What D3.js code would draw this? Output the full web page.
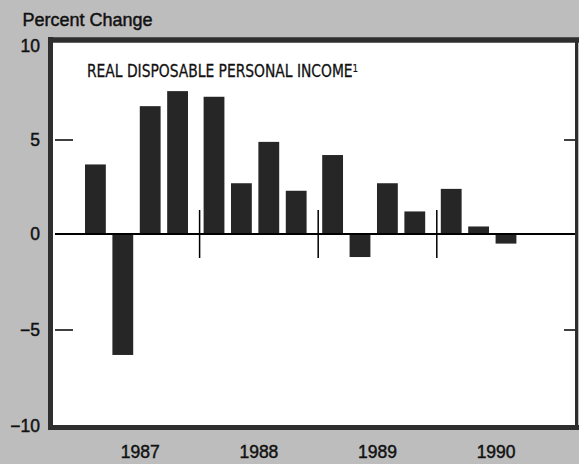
<!DOCTYPE html>
<html>
<head>
<meta charset="utf-8">
<script src="https://cdn.jsdelivr.net/npm/d3@7"></script>
<style>
  html, body { margin: 0; padding: 0; background: #bdbdbd; }
  svg { display: block; }
  text { font-family: "Liberation Sans", Arial, sans-serif; fill: #111; stroke: #111; stroke-width: 0.45px; }
</style>
</head>
<body>
<svg id="chart" width="579" height="464"></svg>
<script>
// real disposable personal income, percent change by quarter
const years = ["1987", "1988", "1989", "1990"];
const quarters = ["I", "II", "III", "IV"];
const values = [
  3.7, -6.3, 6.8, 7.6,
  7.3, 2.7, 4.9, 2.3,
  4.2, -1.2, 2.7, 1.2,
  2.4, 0.4, -0.5, null
];
const yTicks = [10, 5, 0, -5, -10];
const yTickLabels = ["10", "5", "0", "\u22125", "\u221210"];

const svg = d3.select("#chart");
const W = 579, H = 464;
const frame = { left: 50.5, top: 40, right: 576.5, bottom: 427.5 };

svg.append("rect").attr("width", W).attr("height", H).attr("fill", "#bdbdbd");
svg.append("rect")
  .attr("x", frame.left).attr("y", frame.top)
  .attr("width", frame.right - frame.left).attr("height", frame.bottom - frame.top)
  .attr("fill", "#fff");

const y = d3.scaleLinear().domain([-10, 0, 10]).range([426, 234, 46]);
const xYear = d3.scaleBand().domain(years).range([81, 555.4]);
const xQ = d3.scaleBand().domain(quarters).range([4, 107]).paddingInner(0.24).paddingOuter(0);

const rows = values.map((v, i) => ({
  year: years[Math.floor(i / 4)],
  q: quarters[i % 4],
  v: v
})).filter(d => d.v != null);

// bars
svg.append("g").selectAll("rect").data(rows).join("rect")
  .attr("x", d => xYear(d.year) + xQ(d.q))
  .attr("width", xQ.bandwidth())
  .attr("y", d => y(Math.max(0, d.v)))
  .attr("height", d => Math.abs(y(d.v) - y(0)))
  .attr("fill", "#262626");

// zero line
svg.append("line")
  .attr("x1", 55).attr("x2", frame.right)
  .attr("y1", y(0)).attr("y2", y(0))
  .attr("stroke", "#000").attr("stroke-width", 2);

// year separators
svg.append("g").selectAll("line").data(years.slice(1)).join("line")
  .attr("x1", d => xYear(d)).attr("x2", d => xYear(d))
  .attr("y1", y(0) - 24).attr("y2", y(0) + 24)
  .attr("stroke", "#000").attr("stroke-width", 1.5);

// inner ticks at +/-5 on both sides
const midTicks = yTicks.filter(t => Math.abs(t) === 5);
svg.append("g").selectAll("line").data(midTicks).join("line")
  .attr("x1", 55).attr("x2", 73)
  .attr("y1", d => y(d)).attr("y2", d => y(d))
  .attr("stroke", "#000").attr("stroke-width", 1.5);
svg.append("g").selectAll("line").data(midTicks).join("line")
  .attr("x1", 564).attr("x2", frame.right)
  .attr("y1", d => y(d)).attr("y2", d => y(d))
  .attr("stroke", "#000").attr("stroke-width", 1.5);

// frame borders
const border = svg.append("g").attr("stroke", "#2e2e2e");
border.append("line").attr("x1", frame.left).attr("x2", frame.left)
  .attr("y1", frame.top - 3).attr("y2", frame.bottom + 2.5).attr("stroke-width", 5);
border.append("line").attr("x1", frame.left).attr("x2", W)
  .attr("y1", frame.top).attr("y2", frame.top).attr("stroke-width", 5.5);
border.append("line").attr("x1", frame.left).attr("x2", W)
  .attr("y1", frame.bottom).attr("y2", frame.bottom).attr("stroke-width", 5);
border.append("line").attr("x1", frame.right).attr("x2", frame.right)
  .attr("y1", frame.top).attr("y2", frame.bottom).attr("stroke-width", 3);

// y tick labels
svg.append("g").selectAll("text").data(yTicks).join("text")
  .attr("x", 40)
  .attr("y", d => y(d))
  .attr("dy", "0.36em")
  .attr("text-anchor", "end")
  .style("font-size", "17.5px")
  .text((d, i) => yTickLabels[i]);

// year labels
svg.append("g").selectAll("text").data(years).join("text")
  .attr("x", d => xYear(d) + xYear.bandwidth() / 2)
  .attr("y", 458)
  .attr("text-anchor", "middle")
  .style("font-size", "17.5px")
  .text(d => d);

// axis title
svg.append("text")
  .attr("x", 22.5).attr("y", 26)
  .style("font-size", "18px")
  .text("Percent Change");

// chart title (narrowed a bit, superscript in the same text)
const title = svg.append("text")
  .attr("transform", "translate(87,77) scale(0.88,1)")
  .style("font-family", "'Liberation Sans Narrow', 'DejaVu Sans Condensed', sans-serif")
  .style("font-size", "17.5px")
  .style("stroke-width", "0.3px")
  .text("REAL DISPOSABLE PERSONAL INCOME");
title.append("tspan")
  .attr("dy", "-0.45em")
  .style("font-size", "11px")
  .style("stroke-width", "0.2px")
  .text("1");
</script>
</body>
</html>
